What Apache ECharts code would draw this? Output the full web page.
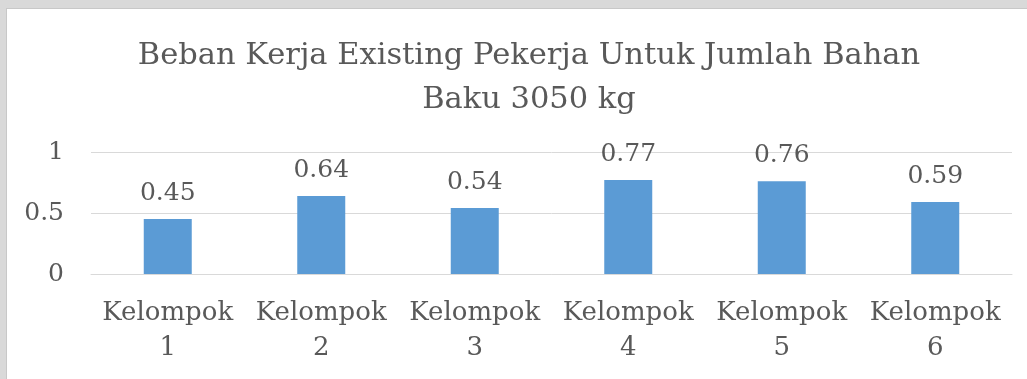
<!DOCTYPE html>
<html>
<head>
<meta charset="utf-8">
<script src="https://cdn.jsdelivr.net/npm/echarts@6/dist/echarts.min.js"></script>
<style>
  html, body { margin: 0; padding: 0; width: 1027px; height: 379px; overflow: hidden; background: #d9d9d9; }
  #box { position: absolute; left: 6px; top: 8px; width: 1021px; height: 371px; background: #ffffff; border-left: 1px solid #c8c8c8; border-top: 1px solid #c8c8c8; }
  #chart { position: absolute; left: 0; top: 0; width: 1027px; height: 379px; }
</style>
</head>
<body>
<div id="box"></div>
<div id="chart"></div>
<script>
const titleText = "Beban Kerja Existing Pekerja Untuk Jumlah Bahan\nBaku 3050 kg";
const categories = ["Kelompok 1", "Kelompok 2", "Kelompok 3", "Kelompok 4", "Kelompok 5", "Kelompok 6"];
const values = [0.45, 0.64, 0.54, 0.77, 0.76, 0.59];
const yTicks = { min: 0, max: 1, interval: 0.5 };

const FONT = "DejaVu Serif";
const TXT = '#595959';

const chart = echarts.init(document.getElementById('chart'), null, { renderer: 'canvas' });
chart.setOption({
  animation: false,
  backgroundColor: 'transparent',
  title: {
    text: titleText,
    left: 524,
    top: 29,
    textAlign: 'center',
    textStyle: { fontFamily: FONT, fontSize: 30.5, fontWeight: 'normal', color: TXT, lineHeight: 44 }
  },
  grid: { left: 91, right: 15, top: 152, bottom: 105, containLabel: false },
  xAxis: {
    type: 'category',
    data: categories,
    axisLine: { show: true, lineStyle: { color: '#d9d9d9', width: 1 } },
    axisTick: { show: false },
    axisLabel: {
      fontFamily: FONT, fontSize: 26, color: TXT, lineHeight: 35, margin: 22,
      interval: 0,
      formatter: v => v.replace(' ', '\n')
    }
  },
  yAxis: {
    type: 'value',
    min: yTicks.min, max: yTicks.max, interval: yTicks.interval,
    axisLine: { show: false },
    axisTick: { show: false },
    splitLine: { lineStyle: { color: '#d9d9d9', width: 1 } },
    axisLabel: { fontFamily: FONT, fontSize: 25, color: TXT, margin: 27 }
  },
  series: [{
    type: 'bar',
    data: values,
    barWidth: 48,
    itemStyle: { color: '#5b9bd5' },
    label: {
      show: true, position: 'top', distance: 13,
      fontFamily: FONT, fontSize: 25, color: TXT
    }
  }]
});
</script>
</body>
</html>
